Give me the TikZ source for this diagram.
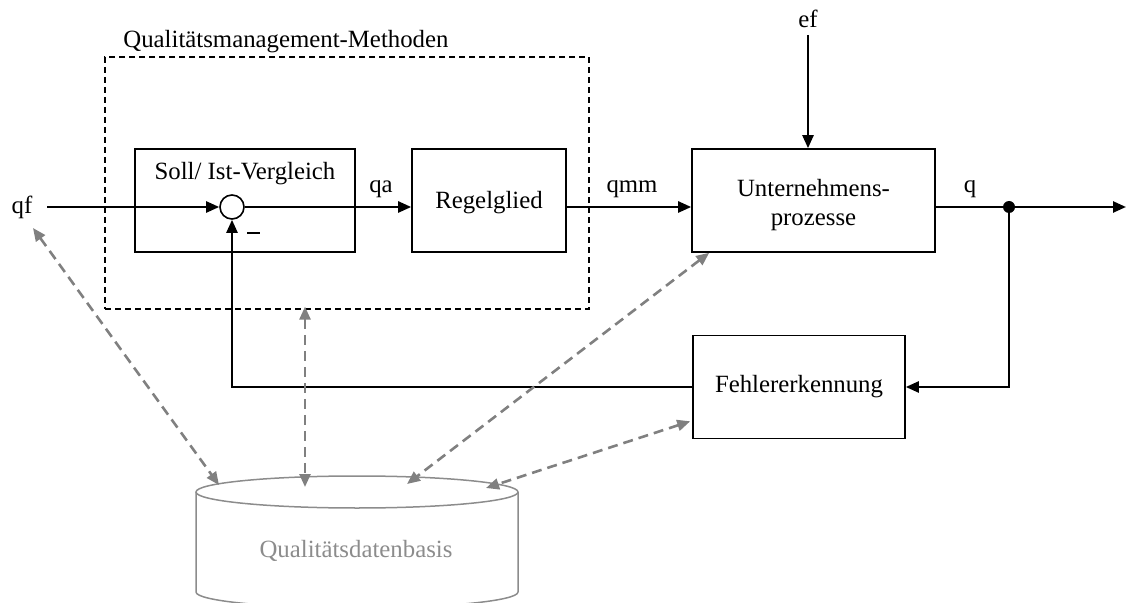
\documentclass[tikz,border=0pt]{standalone}
\usepackage{fontspec}
\setmainfont{Liberation Serif}
\usetikzlibrary{arrows.meta,calc}
\definecolor{linkgray}{RGB}{128,128,128}
\definecolor{dbgray}{RGB}{140,140,140}
\begin{document}
\begin{tikzpicture}[x=0.5pt,y=-0.5pt,
  every node/.style={font=\fontsize{12.4}{15}\selectfont, inner sep=0pt},
  blk/.style={draw, line width=0.8pt, minimum width=#1*0.5pt, minimum height=51.5pt},
  lbl/.style={anchor=base},
  sig/.style={line width=1.2pt, -{Triangle[length=6.5pt,width=5.5pt]}},
  plain/.style={line width=1.2pt},
  link/.style={draw=linkgray, line width=1.3pt, dash pattern=on 5pt off 3pt,
    {Triangle[length=6.5pt,width=5.5pt]}-{Triangle[length=6.5pt,width=5.5pt]}},
  cyl/.style={draw=dbgray, line width=0.75pt}]
\useasboundingbox (0,0) rectangle (1127,603);

% quality management frame
\node[draw, dash pattern=on 3pt off 2pt, line width=0.6pt,
  minimum width=242pt, minimum height=126pt] (qm) at (347,183) {};
\node[anchor=base west] (qmt) at (123,48) {Qualitätsmanagement-Methoden};

% blocks
\node[blk=220] (sv) at (245,200.5) {};
\node[lbl] (svt) at (245,180) {Soll/ Ist-Vergleich};
\node[circle, draw, line width=0.8pt, minimum size=12pt, fill=white] (sum) at (232,207) {};
\node[blk=154] (rg) at (489,200.5) {};
\node[lbl] (rgt) at (489,209) {Regelglied};
\node[blk=243] (up) at (813.5,200.5) {};
\node[lbl] (upt1) at (813.5,197) {Unternehmens-};
\node[lbl] (upt2) at (813.5,226) {prozesse};
\node[blk=212] (fe) at (799,387) {};
\node[lbl] (fet) at (799,393) {Fehlererkennung};

% signal labels
\node[lbl] (qf) at (22,214) {qf};
\node[lbl] (qa) at (381,193) {qa};
\node[lbl] (qmm) at (632,193) {qmm};
\node[lbl] (q) at (970,193) {q};
\node[lbl] (ef) at (808,28) {ef};
\node[fill, minimum width=6.2pt, minimum height=1.4pt] (minus) at (253.5,233) {};

% signal flow
\coordinate (qin) at (47,207);
\coordinate (out) at (1126,207);
\node[circle, fill, minimum size=6pt] (jn) at (1009,207) {};
\draw[sig] (qin) -- (sum.west);
\draw[sig] (sum.east) -- (rg.west |- sum);
\draw[sig] (rg.east |- sum) -- (up.west |- sum);
\draw[plain] (up.east |- jn) -- (jn);
\draw[sig] (jn) -- (out);
\draw[sig] (jn) |- (fe.east);
\draw[sig] (fe.west) -| (sum.south);
\draw[sig] ($(ef.base)+(0,7)$) -- (ef.base |- up.north);

% quality database
\draw[cyl] (196,492) -- (196,592)
  arc[start angle=180, end angle=360, x radius=80.5pt, y radius=8pt] -- (518,492);
\draw[cyl] (357,492) ellipse[x radius=80.5pt, y radius=8pt];
\node[lbl, text=dbgray] (db) at (356,557) {Qualitätsdatenbasis};
\coordinate (c1) at (219,485);
\coordinate (c2) at (305,487);
\coordinate (c3) at (407,484);
\coordinate (c4) at (486,488);

% data links
\coordinate (qfd) at (33,228);
\draw[link] (qfd) -- (c1);
\draw[link, shorten <=-1.5pt] (c2 |- qm.south) -- (c2);
\draw[link] ($(up.south west)+(18,0)$) -- (c3);
\draw[link] ($(fe.south west)+(-2,-18)$) -- (c4);
\end{tikzpicture}
\end{document}
